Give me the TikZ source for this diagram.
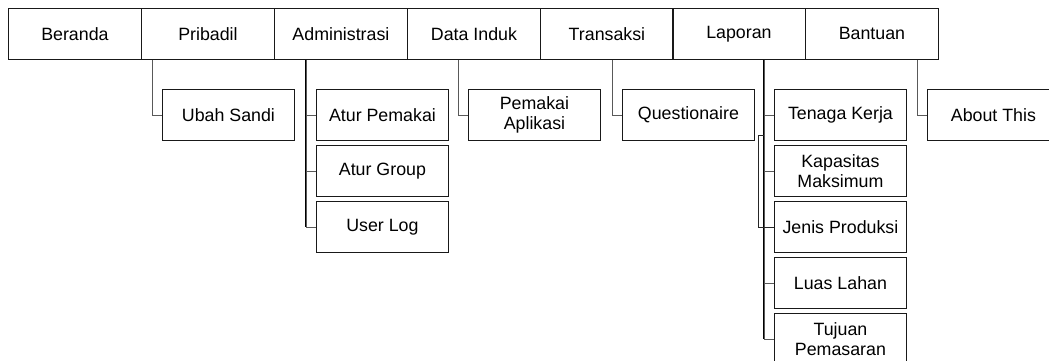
\documentclass[tikz,border=0pt]{standalone}
\usepackage{fontspec}
\setmainfont{Liberation Sans}
\usetikzlibrary{positioning}
\begin{document}
\begin{tikzpicture}[x=1pt,y=-1pt,
  menubox/.style={draw=black!90,line width=0.9pt,minimum width=133pt,minimum height=51pt,
    inner sep=0pt,align=center,font=\fontsize{17.8}{20}\selectfont,anchor=north west},
  subbox/.style={menubox,minimum width=132pt},
  link/.style={draw=black!65,line width=0.9pt},
  trunk/.style={draw=black,line width=1.1pt}]
\useasboundingbox (0,0) rectangle (1049,360);
\clip (0,0) rectangle (1049,360);

% top menu bar
\node[menubox] (beranda) at (8,8)   {Beranda};
\node[menubox] (pribadi) at (141,8) {Pribadil};
\node[menubox] (admin)   at (274,8) {Administrasi};
\node[menubox] (data)    at (407,8) {Data Induk};
\node[menubox] (trans)   at (540,8) {Transaksi};
\node[menubox] (lapor)   at (672,8) {Laporan};
\node[menubox] (bantu)   at (805,8) {Bantuan};

% sub menus
\node[subbox] (sandi)   at (162,89)  {Ubah Sandi};
\node[subbox] (pemakai) at (316,89)  {Atur Pemakai};
\node[subbox] (group)   at (316,145) {Atur Group};
\node[subbox] (log)     at (316,201) {User Log};
\node[subbox] (aplik)   at (468,89)  {Pemakai\\Aplikasi};
\node[subbox] (quest)   at (622,89)  {Questionaire};
\node[subbox] (tenaga)  at (774,89)  {Tenaga Kerja};
\node[subbox] (kapas)   at (774,145) {Kapasitas\\Maksimum};
\node[subbox] (jenis)   at (774,201) {Jenis Produksi};
\node[subbox] (luas)    at (774,257) {Luas Lahan};
\node[subbox] (tujuan)  at (774,313) {Tujuan\\Pemasaran};
\node[subbox] (about)   at (927,89)  {About This};

% elbow connectors from each menu to its items
\draw[link] ([xshift=-10pt]sandi.west |- pribadi.south) |- (sandi.west);
\draw[trunk] ([xshift=-10pt]log.west |- admin.south) -- ([xshift=-10pt]log.west);
\foreach \c in {pemakai,group,log}
  \draw[link] ([xshift=-10pt]\c.west |- admin.south) |- (\c.west);
\draw[link] ([xshift=-10pt]aplik.west |- data.south) |- (aplik.west);
\draw[link] ([xshift=-10pt]quest.west |- trans.south) |- (quest.west);
\draw[trunk] ([xshift=-10pt]tujuan.west |- lapor.south) -- ([xshift=-10pt]tujuan.west);
\foreach \c in {tenaga,kapas,luas,tujuan}
  \draw[link] ([xshift=-10pt]\c.west |- lapor.south) |- (\c.west);
\coordinate (jtop) at ([xshift=-10pt]jenis.west |- 0,135);
\draw[link,draw=black!85] (jtop) -- ++(-6,0) |- (jenis.west);
\draw[link] ([xshift=-10pt]about.west |- bantu.south) |- (about.west);
\end{tikzpicture}
\end{document}
